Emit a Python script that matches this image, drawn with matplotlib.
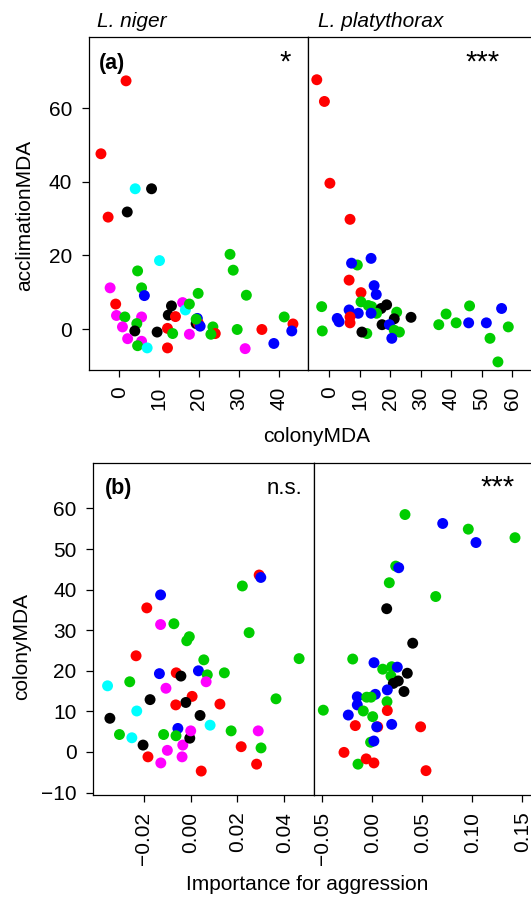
import matplotlib
matplotlib.use('Agg')
import matplotlib.pyplot as plt

plt.rcParams['font.family'] = ['Liberation Sans', 'DejaVu Sans']

# R-style palette used for the colour codes below
palette = {'r': '#FF0000', 'g': '#00CD00', 'b': '#0000FF',
           'k': '#000000', 'c': '#00FFFF', 'm': '#FF00FF'}

# ---- (a) L. niger: colonyMDA vs acclimationMDA ----
niger_col_a = [1.7, -4.6, 4.0, 8.1, 2.0, -2.8, 10.1, 27.8, 28.6, 4.6, -2.3, 5.6, 6.3,
               19.8, 31.9, -0.9, -0.7, 1.4, 5.6, 4.4, 0.8, 3.9, 2.1, 5.6, 4.6, 7.0,
               9.5, 12.1, 12.1, 13.4, 13.1, 12.3, 14.1, 15.9, 16.6, 17.6, 19.6, 19.3,
               19.9, 20.3, 19.3, 17.6, 23.5, 24.1, 23.0, 29.6, 35.8, 31.6, 38.8, 41.4,
               43.6, 43.3]
niger_accl = [67.4, 47.6, 38.1, 38.1, 31.8, 30.4, 18.6, 20.3, 16.0, 15.8, 11.2, 11.2, 9.1,
              9.7, 9.2, 6.8, 3.7, 3.3, 3.3, 1.5, 0.6, -0.5, -2.6, -3.3, -4.5, -5.1,
              -0.8, -5.1, 0.2, -1.2, 6.3, 3.8, 3.4, 7.2, 5.2, 6.8, 2.9, 1.5,
              1.5, 0.8, 2.7, -1.4, 0.6, -1.2, -1.4, -0.1, -0.1, -5.3, -3.9, 3.3,
              1.4, -0.5]
niger_clr_a = list('rrckkrcgggmgbggrmgmgmkmmgckrrgkkrmcgbkrbgmgrggrmbgrb')

# ---- (a) L. platythorax ----
platy_col_a = [-4.1, -1.6, 0.2, 6.8, 9.2, 7.3, 13.7, 6.5, 14.7, 10.4, 15.4, 10.4, 12.8,
               13.9, -2.5, 18.8, 17.0, 15.5, 13.7, 6.5, 9.5, 22.1, 2.6, 3.2, 6.8, 6.8,
               -2.3, 21.3, 26.8, 17.3, 19.7, 21.3, 23.0, 20.5, 12.3, 10.7, 35.9, 38.3,
               41.6, 46.0, 45.7, 51.5, 56.5, 58.7, 52.7, 55.3]
platy_accl = [67.7, 61.8, 39.6, 29.8, 17.4, 17.9, 19.2, 13.3, 11.8, 9.9, 9.4, 7.4, 6.4,
              6.1, 6.1, 6.6, 5.6, 4.3, 4.3, 5.2, 4.3, 4.6, 2.9, 2.0, 3.3, 1.7,
              -0.5, 2.8, 3.2, 1.2, 1.2, -0.3, -0.8, -2.5, -1.2, -0.8, 1.2, 4.1,
              1.7, 6.3, 1.7, 1.7, 5.6, 0.6, -2.5, -8.9]
platy_clr_a = list('rrrrgbbrbrbggggkkgbbbgbbrrgkkkbggbgkggggbbbggg')

# ---- (b) L. niger: importance for aggression vs colonyMDA ----
niger_aggr = [0.0293, 0.0300, 0.0221, -0.0129, -0.0188, -0.0129, -0.0072, 0.0250, -0.0006,
              -0.0017, 0.0464, -0.0234, 0.0056, -0.0134, -0.0062, -0.0042, 0.0033, 0.0071,
              0.0144, 0.0066, -0.0356, -0.0261, -0.0106, -0.0174, 0.0006, -0.0021, -0.0064,
              0.0125, 0.0365, -0.0231, -0.0346, 0.0040, -0.0305, -0.0252, -0.0204, -0.0183,
              -0.0116, -0.0128, -0.0100, -0.0055, -0.0063, -0.0034, -0.0037, -0.0004, 0.0000,
              0.0083, 0.0045, 0.0173, 0.0216, 0.0289, 0.0282, 0.0301]
niger_col_b = [43.6, 43.0, 40.9, 38.7, 35.5, 31.4, 31.6, 29.4, 28.4,
               27.4, 23.0, 23.7, 22.7, 19.3, 19.5, 18.7, 20.0, 19.0,
               19.5, 17.3, 16.3, 17.3, 15.7, 12.9, 13.7, 12.2, 11.6,
               11.8, 13.1, 10.1, 8.3, 9.0, 4.3, 3.5, 1.7, -1.2,
               4.3, -2.7, 0.4, 5.8, 4.0, 1.7, -1.2, 3.4, 5.2,
               6.6, -4.7, 5.2, 1.3, 5.2, -3.0, 1.0]
niger_clr_b = list('rbgbrmgggggrgbrkbggmcgmkrkrrgckkgckrgmmbgmmkmcrgrmrg')

# ---- (b) L. platythorax ----
platy_aggr = [0.0327, 0.0704, 0.0960, 0.1037, 0.1427, 0.0234, 0.0264, 0.0170, 0.0634,
              0.0144, 0.0404, -0.0196, 0.0017, 0.0104, 0.0194, 0.0250, 0.0350, 0.0187,
              0.0260, 0.0210, 0.0317, 0.0150, 0.0030, -0.0150, -0.0056, -0.0013, -0.0150,
              0.0147, -0.0490, -0.0240, -0.0090, 0.0150, 0.0004, -0.0170, 0.0054, 0.0044,
              0.0194, 0.0483, -0.0017, 0.0016, -0.0283, -0.0143, -0.0061, 0.0016, 0.0537]
platy_col_b = [58.5, 56.3, 54.9, 51.6, 52.8, 45.8, 45.4, 41.7, 38.3,
               35.3, 26.8, 22.9, 22.0, 20.4, 21.0, 20.9, 19.4, 18.7,
               17.5, 16.9, 14.9, 15.3, 14.2, 13.6, 13.5, 13.5, 11.6,
               12.4, 10.3, 9.1, 10.1, 10.2, 8.7, 6.5, 6.2, 6.2,
               6.8, 6.2, 2.4, 2.7, -0.1, -3.0, -1.7, -2.7, -4.6]
platy_clr_b = list('gbgbggbggkkgbggbkgkkkbbbggbggbgrgrrbbrgbrgrrr')

# tick values / labels
yt_a = [0, 20, 40, 60]
xt_niger_a = [0, 10, 20, 30, 40]
xt_platy_a = [0, 10, 20, 30, 40, 50, 60]
yt_b = [-10, 0, 10, 20, 30, 40, 50, 60]
xt_niger_b = [-0.02, 0.0, 0.02, 0.04]
xl_niger_b = ['\u22120.02', '0.00', '0.02', '0.04']
xt_platy_b = [-0.05, 0.0, 0.05, 0.10, 0.15]
xl_platy_b = ['\u22120.05', '0.00', '0.05', '0.10', '0.15']

W, H = 531, 900
FS = 15

fig = plt.figure(figsize=(W / 100, H / 100), dpi=100)


def add_ax(x0, x1, y0, y1):
    # pixel box -> figure fraction
    return fig.add_axes([x0 / W, 1 - y1 / H, (x1 - x0) / W, (y1 - y0) / H])


def style(ax, yticks=None):
    for s in ax.spines.values():
        s.set_linewidth(0.9)
    ax.tick_params(axis='both', length=5, width=0.9, labelsize=FS, pad=7)
    ax.tick_params(axis='x', labelrotation=90)
    if yticks is None:
        ax.set_yticks([])
    else:
        ax.set_yticks(yticks)


def dots(ax, x, y, c):
    ax.scatter(x, y, c=[palette[k] for k in c], s=62, linewidths=0, zorder=3)


# top row
ax1 = add_ax(89, 307.7, 37, 370)
ax2 = add_ax(307.7, 533, 37, 370)
# bottom row
ax3 = add_ax(93.3, 314.3, 463, 795)
ax4 = add_ax(314.3, 533, 463, 795)

dots(ax1, niger_col_a, niger_accl, niger_clr_a)
dots(ax2, platy_col_a, platy_accl, platy_clr_a)
dots(ax3, niger_aggr, niger_col_b, niger_clr_b)
dots(ax4, platy_aggr, platy_col_b, platy_clr_b)

ax1.set_xlim(-7.6, 47.3)
ax2.set_xlim(-7.08, 66.8)
ax1.set_ylim(-11.1, 79.3)
ax2.set_ylim(-11.1, 79.3)
ax3.set_xlim(-0.0417, 0.0529)
ax4.set_xlim(-0.058, 0.1607)
ax3.set_ylim(-10.6, 71.2)
ax4.set_ylim(-10.6, 71.2)

style(ax1, yt_a)
style(ax2)
style(ax3, yt_b)
style(ax4)

ax1.set_xticks(xt_niger_a)
ax2.set_xticks(xt_platy_a)
ax3.set_xticks(xt_niger_b)
ax3.set_xticklabels(xl_niger_b)
ax4.set_xticks(xt_platy_b)
ax4.set_xticklabels(xl_platy_b)
ax4.spines['right'].set_visible(False)
ax2.spines['right'].set_visible(False)


def ftext(x, y, s, **kw):
    kw.setdefault('fontsize', FS)
    fig.text(x / W, 1 - y / H, s, **kw)


# species headers
ftext(97, 27, 'L. niger', style='italic', va='baseline')
ftext(318, 27, 'L. platythorax', style='italic', va='baseline')

# panel letters and significance
ftext(99, 69.5, '(a)', weight='bold', va='baseline', fontsize=15.5)
ftext(291, 71, '*', ha='right', va='baseline', fontsize=21)
ftext(500, 71, '***', ha='right', va='baseline', fontsize=21)
ftext(105, 494.5, '(b)', weight='bold', va='baseline', fontsize=15.5)
ftext(302, 494.5, 'n.s.', ha='right', va='baseline', fontsize=16)
ftext(515, 496, '***', ha='right', va='baseline', fontsize=21)

# axis titles
ftext(316.5, 442, 'colonyMDA', ha='center', va='baseline')
ftext(307, 890, 'Importance for aggression', ha='center', va='baseline')
ftext(25, 215, 'acclimationMDA', rotation=90, ha='center', va='center')
ftext(22, 646, 'colonyMDA', rotation=90, ha='center', va='center')

fig.savefig('out.png', dpi=100)
